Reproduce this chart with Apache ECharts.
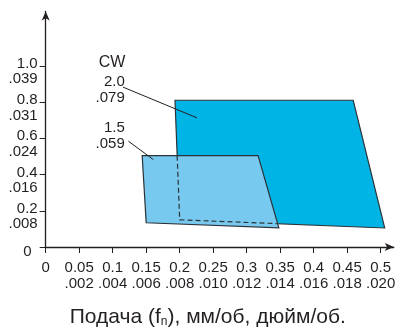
<!DOCTYPE html>
<html lang="ru">
<head>
<meta charset="UTF-8">
<title>Подача</title>
<style>
  html, body { margin: 0; padding: 0; background: #fff; }
  #feed_box { width: 400px; height: 333px; }
</style>
<script src="https://cdn.jsdelivr.net/npm/echarts@6/dist/echarts.min.js"></script>
</head>
<body>
<div id="feed_box"></div>
<script type="text/javascript">
// ось X: подача, мм/об и дюйм/об
var xTicks = [0, 0.05, 0.1, 0.15, 0.2, 0.25, 0.3, 0.35, 0.4, 0.45, 0.5];
var xMetric = ['0', '0.05', '0.1', '0.15', '0.2', '0.25', '0.3', '0.35', '0.4', '0.45', '0.5'];
var xInch = ['', '.002', '.004', '.006', '.008', '.010', '.012', '.014', '.016', '.018', '.020'];

// ось Y: глубина
var yTicks = [0, 0.2, 0.4, 0.6, 0.8, 1.0];
var yMetric = ['0', '0.2', '0.4', '0.6', '0.8', '1.0'];
var yInch = ['', '.008', '.016', '.024', '.031', '.039'];

// области (CW 2.0 и CW 1.5)
var cw20 = [[0.193, 0.81], [0.459, 0.81], [0.506, 0.105], [0.2, 0.15]];
var cw15 = [[0.144, 0.504], [0.317, 0.504], [0.348, 0.106], [0.150, 0.134]];
var cw20Hidden = [[0.1962, 0.504], [0.2, 0.15], [0.345, 0.129]];

// подписи и выноски
var noteText = ['CW', '2.0\n.079', '1.5\n.059'];
var notePos = [[0.099, 1.017], [0.118, 0.866], [0.118, 0.614]];
var noteAlign = ['center', 'right', 'right'];
var leaders = [
  [[0.1154, 0.8826], [0.2258, 0.7131]],
  [[0.1233, 0.5845], [0.1606, 0.4826]]
];

var FONT = '"Liberation Sans", Arial, Helvetica, sans-serif';
var INK = '#231f20';

function tickIndex(list, v) {
  for (var i = 0; i < list.length; i++) {
    if (Math.abs(list[i] - v) < 1e-9) return i;
  }
  return -1;
}

function polygonItem(points, fill) {
  return function (params, api) {
    return {
      type: 'polygon',
      shape: { points: points.map(function (p) { return api.coord(p); }) },
      style: { fill: fill, stroke: '#2b3338', lineWidth: 1.2 }
    };
  };
}

var chart = echarts.init(document.getElementById('feed_box'));

var option = {
  animation: false,
  textStyle: { fontFamily: FONT, color: INK },
  grid: { left: 45.7, right: 6.2, top: 11.5, bottom: 79 },
  xAxis: {
    type: 'value',
    min: 0,
    max: 0.5196,
    splitLine: { show: false },
    axisLine: { symbol: ['none', 'arrow'], symbolSize: [6, 9], lineStyle: { color: INK, width: 1.3 } },
    axisTick: { customValues: xTicks, length: 6, lineStyle: { color: INK, width: 1 } },
    axisLabel: {
      customValues: xTicks,
      color: INK,
      fontFamily: FONT,
      fontSize: 15,
      lineHeight: 16,
      margin: 13,
      formatter: function (v) {
        var i = tickIndex(xTicks, v);
        if (i < 0) return '';
        return xInch[i] ? xMetric[i] + '\n' + xInch[i] : xMetric[i];
      }
    },
    name: '{m|Подача (f}{s|n}{m|), мм/об, дюйм/об.}',
    nameLocation: 'middle',
    nameGap: 59,
    nameTextStyle: {
      padding: [0, 24, 0, 0],
      rich: {
        m: { fontSize: 21, lineHeight: 22, fontFamily: FONT, color: INK },
        s: { fontSize: 12, lineHeight: 22, verticalAlign: 'bottom', fontFamily: FONT, color: INK }
      }
    }
  },
  yAxis: {
    type: 'value',
    min: 0,
    max: 1.30,
    splitLine: { show: false },
    axisLine: { symbol: ['none', 'arrow'], symbolSize: [6, 9], lineStyle: { color: INK, width: 1.3 } },
    axisTick: { customValues: yTicks, length: 6, lineStyle: { color: INK, width: 1 } },
    axisLabel: {
      customValues: yTicks,
      margin: 8,
      padding: [6, 0, 0, 0],
      formatter: function (v) {
        var i = tickIndex(yTicks, v);
        if (i < 0) return '';
        if (!yInch[i]) return '{z|' + yMetric[i] + '}';
        return '{a|' + yMetric[i] + '}\n{b|' + yInch[i] + '}';
      },
      rich: {
        a: { fontSize: 15, lineHeight: 21, fontFamily: FONT, color: INK },
        b: { fontSize: 15, lineHeight: 10, fontFamily: FONT, color: INK },
        z: { fontSize: 15, lineHeight: 15, padding: [4, 6, 0, 0], fontFamily: FONT, color: INK }
      }
    }
  },
  series: [
    { type: 'custom', clip: false, data: [[0, 0]], renderItem: polygonItem(cw20, '#00b4e6'), z: 1 },
    { type: 'custom', clip: false, data: [[0, 0]], renderItem: polygonItem(cw15, '#78c9ef'), z: 2 },
    {
      type: 'custom', clip: false, data: [[0, 0]], z: 3,
      renderItem: function (params, api) {
        return {
          type: 'polyline',
          shape: { points: cw20Hidden.map(function (p) { return api.coord(p); }) },
          style: { fill: null, stroke: '#2b3338', lineWidth: 1.2, lineDash: [5, 3] }
        };
      }
    },
    {
      type: 'custom', clip: false, data: leaders.map(function (l, i) { return [i]; }), z: 4,
      renderItem: function (params, api) {
        var l = leaders[params.dataIndex];
        var a = api.coord(l[0]), b = api.coord(l[1]);
        return {
          type: 'line',
          shape: { x1: a[0], y1: a[1], x2: b[0], y2: b[1] },
          style: { stroke: INK, lineWidth: 1 }
        };
      }
    },
    {
      type: 'custom', clip: false, data: noteText.map(function (t, i) { return [i]; }), z: 5,
      renderItem: function (params, api) {
        var i = params.dataIndex;
        var p = api.coord(notePos[i]);
        return {
          type: 'text',
          style: {
            text: noteText[i],
            x: p[0], y: p[1],
            align: noteAlign[i],
            verticalAlign: 'middle',
            fontSize: i === 0 ? 16 : 15,
            lineHeight: 16,
            fontFamily: FONT,
            fill: INK
          }
        };
      }
    }
  ]
};

chart.setOption(option);
</script>
</body>
</html>
